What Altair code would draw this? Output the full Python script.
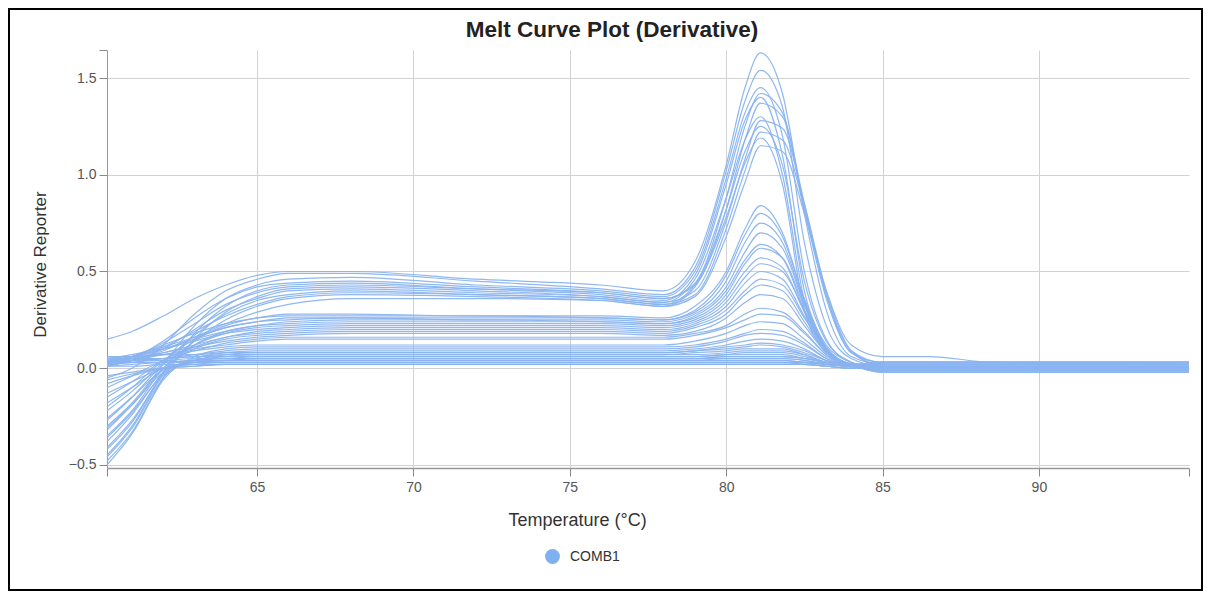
import altair as alt
import pandas as pd

TEMPS = [60.2, 61, 62, 63, 64, 65, 66, 68, 72, 76, 78, 79, 80, 80.6, 81.1, 81.8, 82.5, 83.2, 84, 85, 86.5, 88.5, 94.8]

# High-amplitude wells
A01 = [0.15, 0.19, 0.27, 0.36, 0.43, 0.48, 0.50, 0.50, 0.46, 0.43, 0.40, 0.55, 1.05, 1.45, 1.63, 1.42, 0.80, 0.30, 0.06, 0.02, 0.02, 0.02, 0.02]
A02 = [-0.05, 0.00, 0.12, 0.28, 0.40, 0.46, 0.49, 0.49, 0.45, 0.41, 0.38, 0.52, 1.02, 1.38, 1.54, 1.35, 0.65, 0.22, 0.05, 0.01, 0.01, 0.01, 0.01]
A03 = [-0.30, -0.18, 0.02, 0.22, 0.36, 0.43, 0.46, 0.47, 0.43, 0.40, 0.37, 0.50, 0.98, 1.32, 1.45, 1.20, 0.50, 0.15, 0.03, 0.00, 0.00, 0.00, 0.00]
A04 = [0.02, 0.05, 0.14, 0.26, 0.36, 0.42, 0.44, 0.45, 0.42, 0.39, 0.36, 0.44, 0.88, 1.25, 1.42, 1.32, 0.85, 0.38, 0.08, 0.03, 0.03, 0.03, 0.03]
A05 = [-0.42, -0.28, -0.02, 0.18, 0.32, 0.40, 0.43, 0.44, 0.41, 0.38, 0.35, 0.48, 0.95, 1.28, 1.40, 1.10, 0.40, 0.12, 0.03, -0.01, -0.01, -0.01, -0.01]
A06 = [0.03, 0.06, 0.13, 0.23, 0.33, 0.39, 0.42, 0.43, 0.41, 0.39, 0.36, 0.43, 0.82, 1.18, 1.37, 1.30, 0.82, 0.36, 0.08, 0.02, 0.02, 0.02, 0.02]
A07 = [-0.48, -0.33, -0.05, 0.15, 0.29, 0.37, 0.41, 0.42, 0.40, 0.37, 0.34, 0.46, 0.88, 1.18, 1.30, 1.00, 0.35, 0.10, 0.02, 0.00, 0.00, 0.00, 0.00]
A08 = [0.01, 0.04, 0.10, 0.20, 0.30, 0.36, 0.40, 0.41, 0.39, 0.37, 0.34, 0.40, 0.76, 1.08, 1.28, 1.24, 0.85, 0.40, 0.09, 0.01, 0.01, 0.01, 0.01]
A09 = [-0.22, -0.12, 0.03, 0.17, 0.28, 0.35, 0.38, 0.40, 0.38, 0.36, 0.33, 0.43, 0.82, 1.12, 1.25, 1.05, 0.45, 0.14, 0.03, -0.02, -0.02, -0.02, -0.02]
A10 = [0.04, 0.06, 0.11, 0.19, 0.27, 0.33, 0.37, 0.39, 0.38, 0.36, 0.33, 0.38, 0.72, 1.02, 1.22, 1.18, 0.83, 0.38, 0.09, 0.03, 0.03, 0.03, 0.03]
A11 = [-0.35, -0.22, 0.00, 0.14, 0.25, 0.32, 0.36, 0.38, 0.37, 0.35, 0.32, 0.42, 0.78, 1.06, 1.19, 0.95, 0.30, 0.09, 0.02, 0.00, 0.00, 0.00, 0.00]
A12 = [0.02, 0.04, 0.09, 0.16, 0.23, 0.29, 0.33, 0.36, 0.36, 0.35, 0.32, 0.37, 0.68, 0.96, 1.15, 1.12, 0.80, 0.40, 0.12, 0.06, 0.06, 0.03, 0.02]

# Mid-amplitude wells
B01 = [-0.45, -0.30, -0.03, 0.14, 0.22, 0.26, 0.28, 0.28, 0.27, 0.27, 0.26, 0.32, 0.50, 0.72, 0.84, 0.70, 0.35, 0.10, 0.02, 0.01, 0.01, 0.01, 0.01]
B02 = [0.03, 0.06, 0.12, 0.18, 0.23, 0.26, 0.27, 0.27, 0.27, 0.26, 0.25, 0.30, 0.48, 0.69, 0.80, 0.68, 0.36, 0.11, 0.02, 0.00, 0.00, 0.00, 0.00]
B03 = [-0.20, -0.10, 0.04, 0.15, 0.21, 0.24, 0.26, 0.26, 0.26, 0.26, 0.25, 0.29, 0.45, 0.65, 0.75, 0.65, 0.34, 0.10, 0.02, 0.02, 0.02, 0.02, 0.02]
B04 = [0.05, 0.07, 0.11, 0.16, 0.21, 0.24, 0.25, 0.26, 0.25, 0.25, 0.24, 0.28, 0.42, 0.60, 0.70, 0.62, 0.33, 0.10, 0.02, -0.01, -0.01, -0.01, -0.01]
B05 = [-0.38, -0.24, -0.02, 0.12, 0.19, 0.22, 0.24, 0.25, 0.25, 0.24, 0.23, 0.27, 0.40, 0.56, 0.64, 0.57, 0.30, 0.09, 0.02, 0.01, 0.01, 0.01, 0.01]
B06 = [0.02, 0.05, 0.10, 0.15, 0.19, 0.22, 0.23, 0.24, 0.24, 0.24, 0.23, 0.26, 0.38, 0.54, 0.62, 0.57, 0.32, 0.10, 0.02, 0.03, 0.03, 0.03, 0.03]
B07 = [-0.27, -0.15, 0.02, 0.12, 0.18, 0.21, 0.22, 0.23, 0.23, 0.23, 0.22, 0.25, 0.36, 0.50, 0.57, 0.52, 0.29, 0.09, 0.02, 0.00, 0.00, 0.00, 0.00]
B08 = [0.04, 0.06, 0.10, 0.14, 0.18, 0.20, 0.21, 0.22, 0.22, 0.22, 0.21, 0.24, 0.34, 0.47, 0.54, 0.50, 0.30, 0.10, 0.02, 0.02, 0.02, 0.02, 0.02]
B09 = [-0.15, -0.07, 0.04, 0.11, 0.16, 0.19, 0.20, 0.21, 0.21, 0.21, 0.20, 0.23, 0.32, 0.44, 0.50, 0.46, 0.27, 0.09, 0.02, -0.02, -0.02, -0.02, -0.02]
B10 = [0.01, 0.04, 0.08, 0.12, 0.16, 0.18, 0.19, 0.20, 0.20, 0.20, 0.19, 0.22, 0.30, 0.40, 0.46, 0.43, 0.26, 0.09, 0.02, 0.01, 0.01, 0.01, 0.01]
B11 = [-0.32, -0.19, 0.00, 0.10, 0.15, 0.17, 0.18, 0.19, 0.19, 0.19, 0.18, 0.21, 0.28, 0.38, 0.43, 0.40, 0.24, 0.08, 0.02, 0.00, 0.00, 0.00, 0.00]
B12 = [0.03, 0.05, 0.08, 0.11, 0.14, 0.16, 0.17, 0.18, 0.18, 0.18, 0.17, 0.19, 0.26, 0.34, 0.38, 0.36, 0.22, 0.08, 0.02, 0.03, 0.03, 0.03, 0.03]
B13 = [-0.10, -0.04, 0.04, 0.09, 0.13, 0.15, 0.16, 0.16, 0.16, 0.16, 0.16, 0.18, 0.22, 0.28, 0.31, 0.29, 0.19, 0.07, 0.01, 0.01, 0.01, 0.01, 0.01]
B14 = [0.02, 0.04, 0.07, 0.10, 0.12, 0.14, 0.15, 0.15, 0.15, 0.15, 0.15, 0.17, 0.21, 0.25, 0.28, 0.27, 0.18, 0.07, 0.01, -0.01, -0.01, -0.01, -0.01]

# Low-amplitude wells
C01 = [0.04, 0.05, 0.07, 0.09, 0.11, 0.12, 0.12, 0.12, 0.12, 0.12, 0.12, 0.14, 0.18, 0.22, 0.24, 0.23, 0.15, 0.06, 0.01, 0.02, 0.02, 0.02, 0.02]
C02 = [-0.50, -0.34, -0.06, 0.06, 0.10, 0.11, 0.11, 0.11, 0.11, 0.11, 0.11, 0.12, 0.15, 0.18, 0.20, 0.19, 0.13, 0.05, 0.01, 0.00, 0.00, 0.00, 0.00]
C03 = [0.02, 0.03, 0.05, 0.07, 0.09, 0.10, 0.10, 0.10, 0.10, 0.10, 0.10, 0.11, 0.14, 0.17, 0.18, 0.17, 0.12, 0.05, 0.01, 0.03, 0.03, 0.03, 0.03]
C04 = [-0.46, -0.31, -0.05, 0.05, 0.08, 0.09, 0.09, 0.09, 0.09, 0.09, 0.09, 0.10, 0.12, 0.14, 0.15, 0.14, 0.10, 0.04, 0.01, -0.01, -0.01, -0.01, -0.01]
C05 = [0.06, 0.06, 0.07, 0.07, 0.08, 0.08, 0.08, 0.08, 0.08, 0.08, 0.08, 0.09, 0.11, 0.12, 0.13, 0.12, 0.09, 0.04, 0.01, 0.02, 0.02, 0.02, 0.02]
C06 = [-0.41, -0.27, -0.04, 0.04, 0.07, 0.08, 0.08, 0.08, 0.08, 0.08, 0.08, 0.09, 0.10, 0.11, 0.12, 0.11, 0.08, 0.04, 0.01, 0.01, 0.01, 0.01, 0.01]
C07 = [0.03, 0.04, 0.05, 0.06, 0.07, 0.07, 0.07, 0.07, 0.07, 0.07, 0.07, 0.08, 0.09, 0.10, 0.10, 0.10, 0.07, 0.03, 0.01, 0.00, 0.00, 0.00, 0.00]
C08 = [-0.36, -0.23, -0.03, 0.04, 0.06, 0.07, 0.07, 0.07, 0.07, 0.07, 0.07, 0.07, 0.08, 0.09, 0.09, 0.09, 0.07, 0.03, 0.01, 0.03, 0.03, 0.03, 0.03]
C09 = [0.05, 0.05, 0.05, 0.06, 0.06, 0.06, 0.06, 0.06, 0.06, 0.06, 0.06, 0.06, 0.07, 0.08, 0.08, 0.08, 0.06, 0.03, 0.01, -0.02, -0.02, -0.02, -0.02]
C10 = [-0.31, -0.19, -0.02, 0.04, 0.05, 0.06, 0.06, 0.06, 0.06, 0.06, 0.06, 0.06, 0.07, 0.07, 0.07, 0.07, 0.05, 0.03, 0.01, 0.01, 0.01, 0.01, 0.01]
C11 = [0.01, 0.02, 0.03, 0.04, 0.05, 0.05, 0.05, 0.05, 0.05, 0.05, 0.05, 0.05, 0.06, 0.06, 0.06, 0.06, 0.05, 0.03, 0.01, 0.02, 0.02, 0.02, 0.02]
C12 = [-0.26, -0.15, -0.01, 0.03, 0.04, 0.05, 0.05, 0.05, 0.05, 0.05, 0.05, 0.05, 0.06, 0.06, 0.06, 0.06, 0.05, 0.03, 0.01, 0.00, 0.00, 0.00, 0.00]
C13 = [0.04, 0.04, 0.04, 0.05, 0.05, 0.05, 0.05, 0.05, 0.05, 0.05, 0.05, 0.05, 0.05, 0.05, 0.05, 0.05, 0.04, 0.02, 0.01, 0.03, 0.03, 0.03, 0.03]
C14 = [-0.18, -0.10, 0.00, 0.03, 0.04, 0.04, 0.04, 0.04, 0.04, 0.04, 0.04, 0.04, 0.05, 0.05, 0.05, 0.05, 0.04, 0.02, 0.01, -0.01, -0.01, -0.01, -0.01]
C15 = [0.02, 0.03, 0.03, 0.04, 0.04, 0.04, 0.04, 0.04, 0.04, 0.04, 0.04, 0.04, 0.04, 0.04, 0.04, 0.04, 0.03, 0.02, 0.01, 0.01, 0.01, 0.01, 0.01]
C16 = [-0.13, -0.07, 0.00, 0.03, 0.04, 0.04, 0.04, 0.04, 0.04, 0.04, 0.04, 0.04, 0.04, 0.04, 0.04, 0.04, 0.03, 0.02, 0.01, 0.02, 0.02, 0.02, 0.02]
C17 = [0.06, 0.05, 0.04, 0.03, 0.03, 0.03, 0.03, 0.03, 0.03, 0.03, 0.03, 0.03, 0.03, 0.03, 0.03, 0.03, 0.03, 0.02, 0.01, 0.00, 0.00, 0.00, 0.00]
C18 = [-0.08, -0.04, 0.00, 0.02, 0.03, 0.03, 0.03, 0.03, 0.03, 0.03, 0.03, 0.03, 0.03, 0.03, 0.03, 0.03, 0.02, 0.01, 0.00, 0.03, 0.03, 0.03, 0.03]
C19 = [0.03, 0.03, 0.03, 0.03, 0.03, 0.03, 0.03, 0.03, 0.03, 0.03, 0.03, 0.03, 0.03, 0.03, 0.03, 0.03, 0.03, 0.03, 0.02, -0.02, -0.02, -0.02, -0.02]
C20 = [-0.06, -0.03, 0.00, 0.01, 0.02, 0.02, 0.02, 0.02, 0.02, 0.02, 0.02, 0.02, 0.02, 0.02, 0.02, 0.02, 0.02, 0.01, 0.00, 0.01, 0.01, 0.01, 0.01]
C21 = [0.01, 0.01, 0.02, 0.02, 0.02, 0.02, 0.02, 0.02, 0.02, 0.02, 0.02, 0.02, 0.02, 0.02, 0.02, 0.02, 0.02, 0.01, 0.00, 0.02, 0.02, 0.02, 0.02]
C22 = [-0.04, -0.02, 0.00, 0.01, 0.02, 0.02, 0.02, 0.02, 0.02, 0.02, 0.02, 0.02, 0.02, 0.02, 0.02, 0.02, 0.02, 0.01, 0.00, 0.00, 0.00, 0.00, 0.00]

TARGET = "COMB1"
TITLE = "Melt Curve Plot (Derivative)"
WELLS = {
    "A01": A01, "A02": A02, "A03": A03, "A04": A04, "A05": A05, "A06": A06,
    "A07": A07, "A08": A08, "A09": A09, "A10": A10, "A11": A11, "A12": A12,
    "B01": B01, "B02": B02, "B03": B03, "B04": B04, "B05": B05, "B06": B06,
    "B07": B07, "B08": B08, "B09": B09, "B10": B10, "B11": B11, "B12": B12,
    "B13": B13, "B14": B14,
    "C01": C01, "C02": C02, "C03": C03, "C04": C04, "C05": C05, "C06": C06,
    "C07": C07, "C08": C08, "C09": C09, "C10": C10, "C11": C11, "C12": C12,
    "C13": C13, "C14": C14, "C15": C15, "C16": C16, "C17": C17, "C18": C18,
    "C19": C19, "C20": C20, "C21": C21, "C22": C22,
}

rows = []
for well, vals in WELLS.items():
    for t, v in zip(TEMPS, vals):
        rows.append({"well": well, "temp": t, "deriv": v, "target": TARGET})
df = pd.DataFrame(rows)

XMIN, XMAX = 60.2, 94.8
YMIN, YMAX = -0.516, 1.645
FONT = "Liberation Sans"
LINE_COLOR = "#89b3ef"

x_axis = alt.Axis(
    values=[XMIN, 65, 70, 75, 80, 85, 90, XMAX],
    labelExpr="datum.value % 5 == 0 ? format(datum.value, 'd') : ''",
    gridOpacity={"condition": {"test": "datum.value % 5 != 0", "value": 0}, "value": 1},
    grid=True, gridColor="#d2d2d2", gridWidth=1,
    domainColor="#999999", domainWidth=1.5, tickColor="#888888", tickSize=8,
    labelFont=FONT, labelFontSize=14, labelColor="#555555", labelPadding=4,
    title="Temperature (°C)", titleFont=FONT, titleFontSize=18, titleFontWeight="normal",
    titleColor="#333333", titleX=470, titleY=52, titleAlign="center", titleBaseline="middle",
)
y_axis = alt.Axis(
    values=[-0.5, 0, 0.5, 1.0, 1.5, YMAX],
    labelExpr="datum.value > 1.6 ? '' : format(datum.value, '.1f')",
    gridOpacity={"condition": {"test": "datum.value > 1.6", "value": 0}, "value": 1},
    grid=True, gridColor="#d2d2d2", gridWidth=1,
    domainColor="#999999", domainWidth=1, tickColor="#888888", tickSize=8,
    labelFont=FONT, labelFontSize=14, labelColor="#555555", labelPadding=3,
    title="Derivative Reporter", titleFont=FONT, titleFontSize=17, titleFontWeight="normal",
    titleColor="#333333", titleX=-67, titleY=214, titleAngle=270, titleAlign="center",
    titleBaseline="middle",
)

lines = alt.Chart(df).mark_line(
    interpolate="monotone", strokeWidth=1.2, opacity=0.95
).encode(
    x=alt.X("temp:Q", scale=alt.Scale(domain=[XMIN, XMAX], nice=False, zero=False), axis=x_axis),
    y=alt.Y("deriv:Q", scale=alt.Scale(domain=[YMIN, YMAX], nice=False, zero=False), axis=y_axis),
    color=alt.Color(
        "target:N",
        scale=alt.Scale(domain=[TARGET], range=[LINE_COLOR]),
        legend=alt.Legend(
            title=None, orient="none", legendX=438, legendY=499,
            symbolType="circle", symbolSize=220, symbolFillColor="#7fb0f0",
            symbolStrokeColor="#7fb0f0", symbolStrokeWidth=0, symbolOpacity=1,
            labelFont=FONT, labelFontSize=14, labelColor="#333333", labelOffset=10,
            padding=0,
        ),
    ),
    detail="well:N",
)

title_mark = alt.Chart(pd.DataFrame({"t": [TITLE]})).mark_text(
    font=FONT, fontSize=22.5, fontWeight="bold", color="#222222",
    align="center", baseline="middle",
).encode(text="t:N", x=alt.value(505), y=alt.value(-20))

frame = alt.Chart(pd.DataFrame({"f": [0]})).mark_rect(
    filled=False, stroke="black", strokeWidth=2
).encode(
    x=alt.value(-98), x2=alt.value(1095), y=alt.value(-41), y2=alt.value(540)
)

chart = alt.layer(lines, title_mark, frame).properties(
    width=1082, height=418,
    autosize=alt.AutoSizeParams(type="none"),
    padding={"left": 99, "top": 42, "right": 18, "bottom": 124},
).configure_view(strokeWidth=0)

chart.save("out.html", embed_options={"renderer": "svg", "actions": False})
